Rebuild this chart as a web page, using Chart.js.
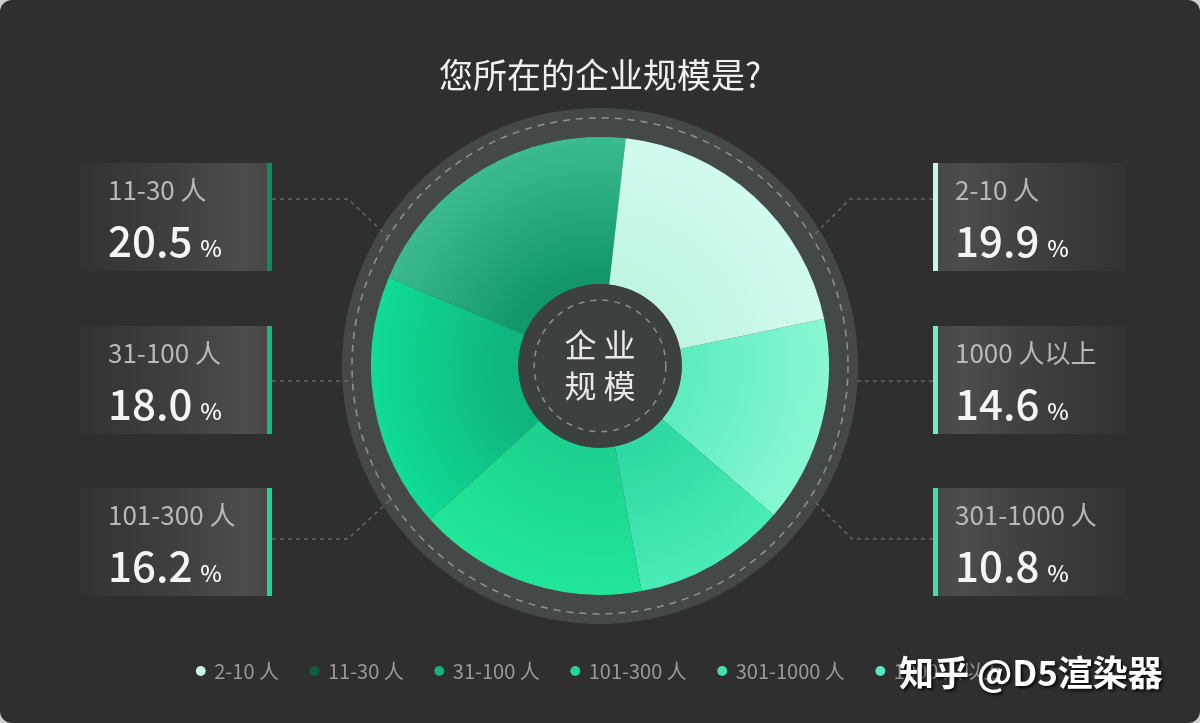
<!DOCTYPE html>
<html>
<head>
<meta charset="utf-8">
<script src="https://cdn.jsdelivr.net/npm/chart.js@4.4.1/dist/chart.umd.min.js"></script>
<style>
  html, body { margin: 0; padding: 0; background: #cfcfcf; }
  #card {
    position: absolute; left: 0; top: 0; width: 1200px; height: 723px;
    background: #2f2f2f; border-radius: 12px; overflow: hidden;
  }
  canvas { display: block; }
</style>
</head>
<body>
<div id="card"><canvas id="size-chart" width="1200" height="723"></canvas></div>
<script>
// 企业规模分布 (legend order)
const categories = ['2-10 人', '11-30 人', '31-100 人', '101-300 人', '301-1000 人', '1000 人以上'];
const shares = [19.9, 20.5, 18.0, 16.2, 10.8, 14.6];
const sliceInner = ['#c0f5e2', '#13976a', '#10b47e', '#1cd28e', '#30d9a3', '#5eedc1'];
const sliceOuter = ['#d2fbef', '#3dbb90', '#0fdd95', '#21e699', '#4aebb7', '#8af7d5'];
const barColors = ['#c8f7e6', '#0f8a5c', '#14b87d', '#1fd593', '#3fe0ac', '#6ef0c6'];
const dotColors = ['#c8f5e4', '#0d5f40', '#16b07a', '#1fd795', '#3ee2b0', '#5ae8c0'];

// side callouts: which category sits in which box
const leftBoxes = [1, 2, 3];   // 11-30, 31-100, 101-300
const rightBoxes = [0, 5, 4];  // 2-10, 1000+, 301-1000
const boxTops = [163, 326, 488];

const FONT = '"Noto Sans CJK SC", "Noto Sans", sans-serif';
const R_OUT = 229, R_IN = 94;

// pie is drawn clockwise, the picture runs the other way -> feed it reversed
const pieLabels = categories.slice().reverse();
const pieValues = shares.slice().reverse();
const pieInner = sliceInner.slice().reverse();
const pieOuter = sliceOuter.slice().reverse();

function sliceFill(context) {
  const chart = context.chart;
  const i = context.dataIndex;
  const area = chart.chartArea;
  if (!area) return pieOuter[i];
  const cx = (area.left + area.right) / 2, cy = (area.top + area.bottom) / 2;
  const g = chart.ctx.createRadialGradient(cx, cy, R_IN, cx, cy, R_OUT);
  g.addColorStop(0, pieInner[i]);
  g.addColorStop(1, pieOuter[i]);
  return g;
}

const ringPlugin = {
  id: 'ring',
  beforeDatasetsDraw(chart) {
    const arc = chart.getDatasetMeta(0).data[0];
    if (!arc) return;
    const {ctx} = chart;
    const cx = arc.x, cy = arc.y, r = arc.outerRadius;
    ctx.save();
    ctx.beginPath();
    ctx.arc(cx, cy, r + 29, 0, Math.PI * 2);
    ctx.fillStyle = '#444947';
    ctx.fill();
    ctx.setLineDash([7, 6]);
    ctx.lineWidth = 1.5;
    ctx.strokeStyle = '#8e9190';
    ctx.beginPath();
    ctx.arc(cx, cy, r + 19, 0, Math.PI * 2);
    ctx.stroke();
    ctx.restore();
  },
  afterDatasetsDraw(chart) {
    const arc = chart.getDatasetMeta(0).data[0];
    if (!arc) return;
    const {ctx} = chart;
    const cx = arc.x, cy = arc.y, r0 = arc.innerRadius;
    ctx.save();
    // centre disc
    ctx.beginPath();
    ctx.arc(cx, cy, r0, 0, Math.PI * 2);
    ctx.fillStyle = '#3c403f';
    ctx.fill();
    ctx.setLineDash([6, 6]);
    ctx.lineWidth = 1.5;
    ctx.strokeStyle = '#8a8d8c';
    ctx.beginPath();
    ctx.arc(cx, cy, r0 - 16, 0, Math.PI * 2);
    ctx.stroke();
    ctx.setLineDash([]);
    ctx.fillStyle = '#e8e8e8';
    ctx.font = '32px ' + FONT;
    ctx.textAlign = 'center';
    ctx.textBaseline = 'middle';
    ctx.fillText('企 业', cx, cy - 21);
    ctx.fillText('规 模', cx, cy + 20);

    // connectors
    ctx.setLineDash([4, 4]);
    ctx.lineWidth = 1.5;
    ctx.strokeStyle = '#666';
    const lines = [
      [[272, 199], [348, 199], [388, 237]],
      [[272, 381], [353, 381]],
      [[272, 539], [348, 539], [390, 500]],
      [[933, 199], [850, 199], [815, 234]],
      [[933, 381], [852, 381]],
      [[933, 539], [852, 539], [813, 500]]
    ];
    lines.forEach(pts => {
      ctx.beginPath();
      ctx.moveTo(pts[0][0], pts[0][1]);
      for (let i = 1; i < pts.length; i++) ctx.lineTo(pts[i][0], pts[i][1]);
      ctx.stroke();
    });
    ctx.setLineDash([]);

    // callout boxes
    const drawBox = (idx, top, side) => {
      const x0 = side === 'left' ? 80 : 933;
      const w = 192, h = 108;
      const g = side === 'left'
        ? ctx.createLinearGradient(x0, 0, x0 + w, 0)
        : ctx.createLinearGradient(x0 + w, 0, x0, 0);
      g.addColorStop(0, '#323232');
      g.addColorStop(0.55, '#414141');
      g.addColorStop(0.85, '#4d4d4d');
      g.addColorStop(1, '#464646');
      ctx.fillStyle = g;
      ctx.fillRect(x0, top, w, h);
      ctx.fillStyle = barColors[idx];
      ctx.fillRect(side === 'left' ? x0 + w - 5 : x0, top, 5, h);

      const tx = side === 'left' ? 108 : 955;
      ctx.textAlign = 'left';
      ctx.textBaseline = 'alphabetic';
      ctx.fillStyle = '#b8b8b8';
      ctx.font = '26px ' + FONT;
      ctx.fillText(categories[idx], tx, top + 37);
      ctx.fillStyle = '#f4f4f4';
      ctx.font = '500 42px ' + FONT;
      const num = shares[idx].toFixed(1);
      ctx.fillText(num, tx, top + 94);
      const nw = ctx.measureText(num).width;
      ctx.font = '500 23px ' + FONT;
      ctx.fillText('%', tx + nw + 8, top + 94);
    };
    leftBoxes.forEach((idx, i) => drawBox(idx, boxTops[i], 'left'));
    rightBoxes.forEach((idx, i) => drawBox(idx, boxTops[i], 'right'));
    ctx.restore();
  },
  afterDraw(chart) {
    const {ctx} = chart;
    ctx.save();
    ctx.font = 'bold 35px ' + FONT;
    ctx.textAlign = 'left';
    ctx.textBaseline = 'middle';
    ctx.shadowColor = 'rgba(0,0,0,0.8)';
    ctx.shadowBlur = 3;
    ctx.shadowOffsetX = 2;
    ctx.shadowOffsetY = 2;
    ctx.fillStyle = '#ffffff';
    ctx.fillText('知乎 @D5渲染器', 899, 673);
    ctx.restore();
  }
};

new Chart(document.getElementById('size-chart'), {
  type: 'pie',
  data: {
    labels: pieLabels,
    datasets: [{
      data: pieValues,
      backgroundColor: sliceFill,
      borderWidth: 0,
      radius: R_OUT,
      cutout: R_IN
    }]
  },
  options: {
    responsive: false,
    animation: false,
    rotation: 78.1,
    layout: { padding: { top: 0, bottom: 32, left: 0, right: 0 } },
    plugins: {
      title: {
        display: true,
        text: '您所在的企业规模是?',
        color: '#f0f0f0',
        font: { family: FONT, size: 34, weight: 'normal', lineHeight: 1.2 },
        padding: { top: 55, bottom: 7 }
      },
      legend: {
        position: 'bottom',
        reverse: true,
        labels: {
          usePointStyle: true,
          pointStyle: 'circle',
          boxWidth: 7,
          boxHeight: 7,
          padding: 32,
          color: '#999999',
          font: { family: FONT, size: 20 },
          generateLabels(chart) {
            const items = Chart.overrides.pie.plugins.legend.labels.generateLabels(chart);
            items.forEach(it => {
              const k = categories.indexOf(it.text);
              it.fillStyle = dotColors[k];
              it.strokeStyle = dotColors[k];
              it.lineWidth = 0;
            });
            return items;
          }
        }
      },
      tooltip: { enabled: false }
    }
  },
  plugins: [ringPlugin]
});
</script>
</body>
</html>
